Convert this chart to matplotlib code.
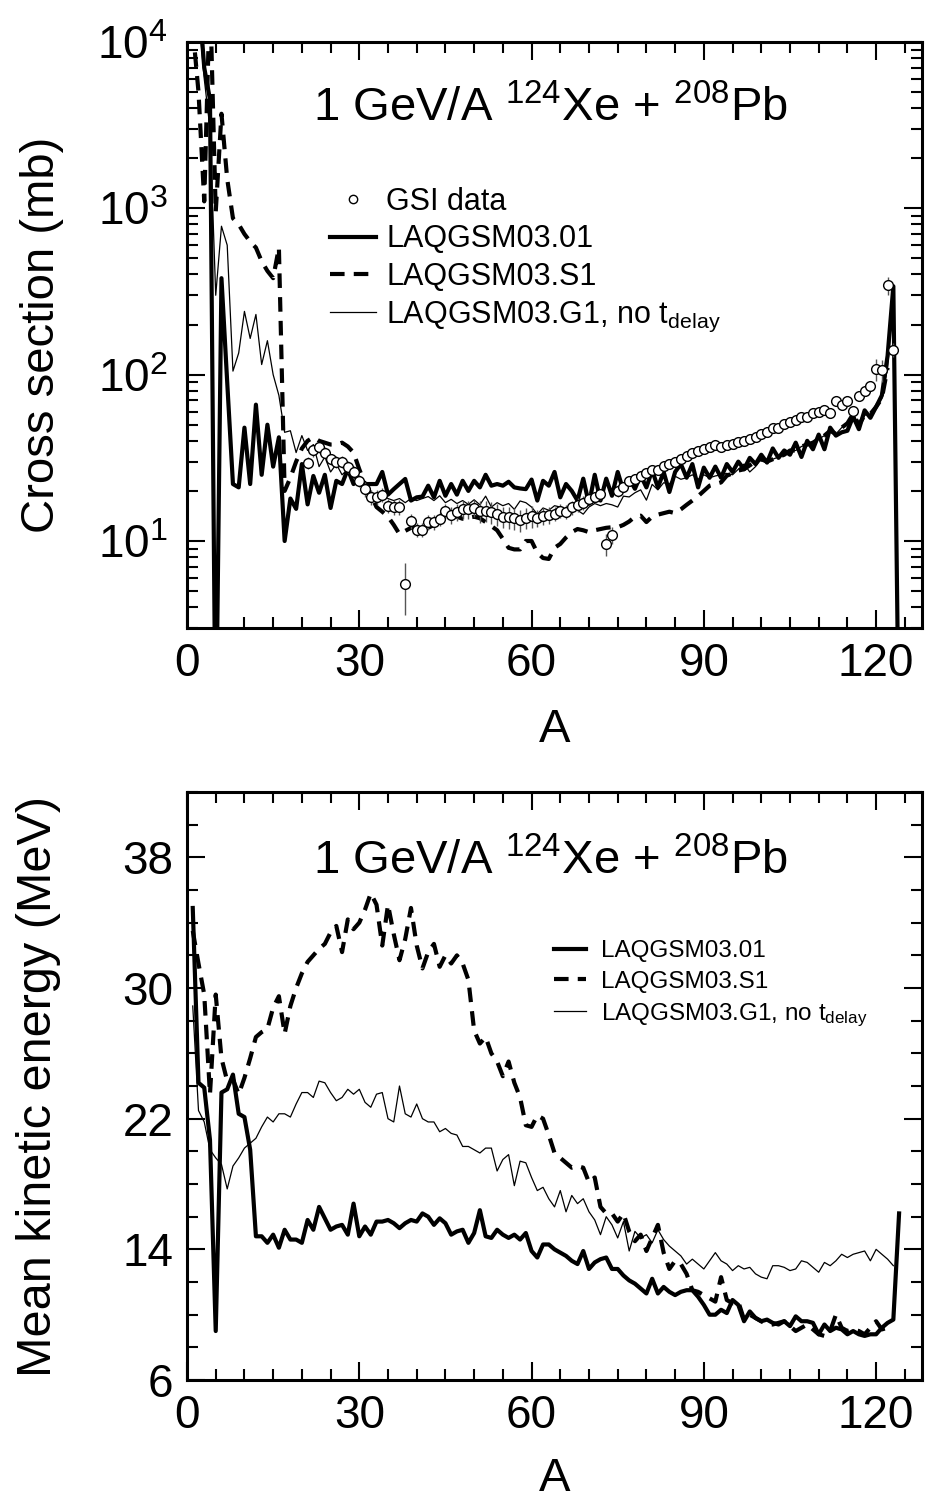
import numpy as np
import matplotlib
matplotlib.use("Agg")
import matplotlib.pyplot as plt
from matplotlib.ticker import MultipleLocator, FixedLocator, LogLocator, NullFormatter
from matplotlib.lines import Line2D

plt.rcParams['font.family'] = ['Liberation Sans', 'DejaVu Sans']
plt.rcParams['mathtext.fontset'] = 'custom'
plt.rcParams['mathtext.rm'] = 'Liberation Sans'
plt.rcParams['mathtext.it'] = 'Liberation Sans:italic'
plt.rcParams['mathtext.default'] = 'regular'

# ---- top panel: cross sections (mb) vs A ----
A = np.arange(1, 125)

xs_01 = [3e4, 2e4, 7000, 4500, 0.5, 380, 90, 22, 21, 48,
         22, 66, 25, 50, 28, 42, 10, 18, 15.6, 29,
         16.6, 24.6, 19.5, 25, 15.8, 23, 22, 27, 22, 24,
         22, 22, 22, 26, 19, 20.5, 22, 23.6, 17.5, 18.3,
         18.5, 21.5, 18.3, 23, 18.7, 22, 19, 23, 20, 23,
         21, 25, 21.5, 22, 21.5, 22.7, 21, 20.7, 20.5, 23.4,
         17.5, 23, 21.5, 26, 18.3, 22, 20, 17.5, 23.7, 16.7,
         25, 17.5, 23.7, 18.7, 26, 20, 23.7, 20.6, 24.8, 21,
         26.6, 21, 26, 19.7, 26, 29, 24, 29, 21, 27.6,
         24, 28, 24, 29, 26, 30, 27, 31.6, 29, 33,
         29.6, 36, 31.6, 35, 33, 39, 32, 40, 35.6, 43.6,
         35.6, 48, 43, 45, 46, 56, 47, 61, 55, 64,
         75, 130, 340, 0.5]

xs_s1 = [1.2e4, 5000, 1100, 2e4, 950, 3700, 1500, 870, 800, 700,
         630, 580, 480, 420, 380, 580, 20, 24, 30, 36,
         40, 42, 40, 39, 38, 38, 39, 37, 34, 27,
         22, 19, 16, 15, 14, 12.5, 11, 11.5, 12, 12,
         12, 12, 12.5, 13, 13.8, 14.2, 14, 13.6, 13.8, 14,
         13.7, 13, 12.3, 11.6, 10.3, 9.1, 8.9, 8.9, 10, 10,
         8.5, 7.9, 7.8, 9.1, 9.6, 10.5, 11.3, 11.8, 11.6, 11.3,
         11.6, 11.8, 12, 12.1, 12.1, 12.5, 13.1, 14, 14.2, 13,
         14, 14.4, 14.7, 15, 14.7, 15.5, 16.5, 17.5, 18.6, 20,
         21.5, 22, 22.5, 24.7, 25.5, 26.5, 27, 28.5, 30, 31,
         30, 31, 32, 33, 35, 35, 37, 38, 39, 41,
         43, 46, 44, 48, 51, 58, 50, 57, 58, 64,
         72, 110]

xs_g1 = [3e4, 1.5e4, 6000, 3000, 300, 780, 600, 105, 135, 240,
         165, 230, 115, 160, 100, 75, 45, 46, 34, 43,
         35, 38, 28, 32, 26, 29, 25, 27, 24, 23,
         21, 20, 18, 19, 18, 17.5, 18, 17, 18, 17.5,
         18, 18.5, 17.5, 18.7, 17, 17.8, 16.8, 17.5, 16.6, 17.7,
         16.5, 18.6, 16, 17, 16.3, 16.8, 15.5, 17.4, 17, 16,
         14.5, 15.8, 15.3, 16.3, 16, 15.2, 15.8, 15.3, 14.5, 16,
         16.8, 16.3, 16.8, 16.5, 16, 18.6, 18.4, 19.5, 20.3, 17.6,
         21.9, 20.3, 22.4, 22, 24.5, 23.5, 24, 25, 23.5, 25,
         24, 24.6, 25, 25.5, 25, 27, 29, 26, 28, 31,
         30, 31, 32, 33, 35, 35, 37, 38, 39, 41,
         43, 46, 44, 48, 51, 59, 48, 57, 58, 64,
         72, 110, 300]

gsi_A = np.arange(21, 124)
gsi_xs = [29.5, 35, 36.5, 34, 31, 30, 30, 28, 26, 23,
          20.5, 18.3, 18.3, 19, 16.3, 16, 16, 5.5, 13.2, 11.7,
          11.7, 13, 13, 13.6, 15.1, 14.3, 15, 15.5, 15.5, 15.8,
          15.1, 15.2, 14.9, 14.5, 14, 13.9, 13.7, 13.4, 13.8, 14.1,
          13.7, 14.1, 14.3, 14.6, 15.2, 15, 15.9, 16.5, 17, 18,
          18.3, 19.1, 9.6, 10.9, 20, 21, 23, 23.5, 24.5, 25.5,
          26.7, 26.9, 28.2, 28.9, 29.9, 31, 32.5, 34, 34.8, 35.6,
          36.7, 37.5, 36.7, 37.5, 38.2, 39.2, 40, 41, 42.3, 43.9,
          45.5, 48, 48, 50.5, 51.6, 53.3, 55.3, 55.8, 59, 59.6,
          61, 59, 69, 66, 69.5, 60.5, 74.8, 80, 86, 108,
          106, 344, 141]
# relative errors of the GSI points
gsi_rel = [0.08, 0.08, 0.08, 0.08, 0.08, 0.08, 0.08, 0.08, 0.08, 0.08,
           0.1, 0.1, 0.1, 0.1, 0.1, 0.1, 0.1, 0.35, 0.1, 0.1,
           0.1, 0.1, 0.1, 0.1, 0.1, 0.12, 0.12, 0.12, 0.12, 0.12,
           0.15, 0.15, 0.15, 0.15, 0.15, 0.15, 0.15, 0.15, 0.15, 0.15,
           0.12, 0.12, 0.12, 0.1, 0.1, 0.1, 0.1, 0.1, 0.1, 0.08,
           0.08, 0.08, 0.15, 0.12, 0.08, 0.06, 0.06, 0.06, 0.06, 0.06,
           0.05, 0.05, 0.05, 0.05, 0.05, 0.05, 0.05, 0.05, 0.05, 0.05,
           0.05, 0.05, 0.05, 0.05, 0.05, 0.05, 0.05, 0.05, 0.05, 0.05,
           0.05, 0.05, 0.05, 0.05, 0.05, 0.05, 0.05, 0.05, 0.05, 0.05,
           0.05, 0.05, 0.05, 0.06, 0.06, 0.06, 0.06, 0.06, 0.06, 0.15,
           0.15, 0.12, 0.1]

# ---- bottom panel: mean kinetic energy (MeV) vs A ----
ke_01 = [34.9, 24.2, 23.9, 20.7, 9.0, 23.6, 23.8, 24.7, 22.3, 22.1,
         20.1, 14.8, 14.8, 14.4, 14.9, 14.1, 15.2, 14.6, 14.6, 14.4,
         15.8, 15.2, 16.6, 15.9, 15.2, 15.4, 15.5, 14.9, 16.8, 14.8,
         15.4, 14.9, 15.7, 15.7, 15.8, 15.6, 15.3, 15.6, 15.8, 15.7,
         16.2, 16.0, 15.5, 15.9, 15.6, 14.9, 15.1, 15.2, 14.4, 15.0,
         16.4, 14.8, 14.7, 15.2, 14.9, 14.7, 14.9, 14.6, 15.0, 13.9,
         13.5, 14.3, 14.3, 14.0, 13.8, 13.6, 13.3, 13.1, 13.9, 12.8,
         13.2, 13.4, 13.5, 12.8, 12.8, 12.4, 12.1, 11.9, 11.6, 11.3,
         12.2, 11.3, 11.7, 11.4, 11.2, 11.4, 11.5, 11.5, 11.1, 10.6,
         10.0, 10.0, 10.3, 10.1, 10.9, 10.6, 9.6, 10.2, 9.8, 9.6,
         9.7, 9.5, 9.4, 9.6, 9.3, 9.9, 9.6, 9.6, 9.5, 8.8,
         9.4, 9.0, 9.2, 9.1, 8.8, 9.0, 8.8, 8.7, 8.8, 8.8,
         9.2, 9.5, 9.7, 16.2]

ke_s1 = [33.5, 31.5, 29.6, 23.5, 29.6, 25.7, 24.3, 24.4, 23.5, 24.5,
         25.7, 27.0, 27.3, 27.5, 28.8, 29.5, 27.2, 28.9, 30.0, 30.9,
         31.6, 32.0, 32.4, 32.7, 33.4, 33.8, 32.2, 34.2, 33.6, 34.0,
         34.8, 35.8, 35.1, 32.6, 35.1, 33.3, 31.7, 33.0, 34.9, 32.6,
         31.2, 32.2, 32.7, 31.3, 32.0, 31.5, 32.0, 31.5, 30.5, 27.4,
         26.6, 27.0, 26.0, 25.5, 24.6, 25.5, 24.2, 23.3, 21.6, 21.5,
         22.2, 22.0, 21.0, 19.9, 19.6, 19.3, 19.0, 19.1, 19.0, 18.1,
         18.4, 16.6, 16.2, 16.2, 15.7, 16.2, 15.1, 14.5, 14.9, 13.9,
         14.7, 15.5, 13.8, 12.8, 13.3, 13.1, 12.5, 11.5, 11.4, 11.2,
         11.0, 10.8, 12.3, 10.9, 10.7, 10.8, 9.7, 10.0, 9.8, 9.6,
         9.4, 9.4, 9.5, 9.6, 9.3, 9.0, 9.2, 9.4, 9.1, 8.8,
         8.7, 9.0, 10.0, 9.2, 9.0, 9.1, 9.0, 8.8, 9.2, 9.6,
         9.1, 9.2]

ke_g1 = [28.9, 22.5, 21.8, 20.1, 19.6, 19.2, 17.7, 19.1, 19.6, 20.2,
         20.5, 20.8, 21.5, 22.1, 21.8, 22.3, 22.3, 22.1, 22.9, 23.6,
         23.6, 23.3, 24.3, 24.2, 23.6, 23.1, 23.3, 23.8, 23.5, 23.8,
         23.0, 22.7, 23.5, 23.6, 22.0, 21.8, 24.0, 22.3, 22.1, 22.9,
         22.0, 21.8, 21.8, 21.2, 21.4, 21.1, 21.0, 20.3, 20.3, 20.1,
         19.9, 20.2, 20.2, 18.8, 19.5, 19.8, 17.9, 19.4, 19.3, 18.4,
         17.6, 17.8, 17.1, 16.6, 17.6, 16.3, 17.3, 16.8, 17.1, 16.3,
         15.8, 14.9, 16.0, 15.5, 14.7, 15.7, 13.9, 15.1, 14.7, 14.9,
         14.4, 15.2, 14.6, 14.2, 13.9, 13.6, 13.1, 13.4, 13.1, 12.8,
         13.3, 13.8, 13.3, 13.1, 12.7, 13.0, 12.8, 12.9, 12.5, 12.3,
         12.2, 13.0, 13.0, 12.9, 12.7, 12.8, 13.3, 13.2, 12.9, 12.6,
         13.2, 13.0, 13.3, 13.7, 13.5, 13.7, 13.8, 13.9, 13.3, 14.0,
         13.7, 13.4, 13.0]

title = r'1 GeV/A $^{124}$Xe + $^{208}$Pb'
lab_01 = 'LAQGSM03.01'
lab_s1 = 'LAQGSM03.S1'
lab_g1 = r'LAQGSM03.G1, no t$_{delay}$'

fig = plt.figure(figsize=(9.36, 15.02), dpi=100)
ax1 = fig.add_axes([0.1998, 0.5819, 0.7853, 0.3902])
ax2 = fig.add_axes([0.1998, 0.0812, 0.7853, 0.3915])

thick = 3.0
dash = (0, (3.5, 2.2))

# top
ax1.plot(A[:len(xs_g1)], xs_g1, color='black', lw=0.9, zorder=2)
ax1.plot(A[:len(xs_s1)], xs_s1, color='black', lw=thick, ls=dash, zorder=3)
ax1.plot(A, xs_01, color='black', lw=thick, zorder=4)
gsi_xs = np.array(gsi_xs)
ax1.errorbar(gsi_A, gsi_xs, yerr=gsi_xs * np.array(gsi_rel), fmt='none',
             ecolor='#555555', elinewidth=1.0, capsize=0, zorder=5)
ax1.plot(gsi_A, gsi_xs, 'o', ms=7, mfc='white', mec='black', mew=1.0, zorder=6)
ax1.set_yscale('log')
ax1.set_ylim(3, 1e4)
ax1.set_xlim(0, 128)
ax1.yaxis.set_major_locator(LogLocator(base=10, numticks=10))
ax1.yaxis.set_minor_locator(LogLocator(base=10, subs=np.arange(2, 10), numticks=20))
ax1.yaxis.set_minor_formatter(NullFormatter())
ax1.set_ylabel('Cross section (mb)', fontsize=34)
ax1.yaxis.set_label_coords(-0.168, 0.5)

leg1 = [Line2D([], [], ls='none', marker='o', ms=6, mfc='white', mec='black', mew=1.0),
        Line2D([], [], color='black', lw=thick),
        Line2D([], [], color='black', lw=thick, ls=dash),
        Line2D([], [], color='black', lw=0.9)]
ax1.legend(leg1, ['GSI data', lab_01, lab_s1, lab_g1], loc='upper left',
           bbox_to_anchor=(0.157, 0.80), frameon=False, fontsize=22,
           handlelength=1.5, handletextpad=0.35, labelspacing=0.25)
ax1.text(0.494, 0.885, title, transform=ax1.transAxes, ha='center', va='center', fontsize=34)

# bottom
ax2.plot(A[:len(ke_g1)], ke_g1, color='black', lw=0.9, zorder=2)
ax2.plot(A[:len(ke_s1)], ke_s1, color='black', lw=thick, ls=dash, zorder=3)
ax2.plot(A, ke_01, color='black', lw=thick, zorder=4)
ax2.set_ylim(6, 42)
ax2.set_xlim(0, 128)
ax2.yaxis.set_major_locator(FixedLocator([6, 14, 22, 30, 38]))
ax2.yaxis.set_minor_locator(MultipleLocator(2))
ax2.set_ylabel('Mean kinetic energy (MeV)', fontsize=35)
ax2.yaxis.set_label_coords(-0.172, 0.5)
leg2 = [Line2D([], [], color='black', lw=thick),
        Line2D([], [], color='black', lw=thick, ls=dash),
        Line2D([], [], color='black', lw=0.9)]
ax2.legend(leg2, [lab_01, lab_s1, lab_g1], loc='upper left',
           bbox_to_anchor=(0.47, 0.785), frameon=False, fontsize=17.5,
           handlelength=1.3, handletextpad=0.6, labelspacing=0.35)
ax2.text(0.494, 0.881, title, transform=ax2.transAxes, ha='center', va='center', fontsize=34)

for ax in (ax1, ax2):
    ax.xaxis.set_major_locator(MultipleLocator(30))
    ax.xaxis.set_minor_locator(MultipleLocator(5))
    ax.tick_params(which='both', direction='in', top=True, right=True, labelsize=33, width=1.5)
    ax.tick_params(which='major', length=13, pad=10)
    ax.tick_params(which='minor', length=8)
    for s in ax.spines.values():
        s.set_linewidth(2.2)
ax1.tick_params(axis='y', which='major', pad=14)
ax1.set_xlabel('A', fontsize=34, labelpad=16)
ax2.set_xlabel('A', fontsize=34, labelpad=14)

fig.savefig('out.png', dpi=100)
